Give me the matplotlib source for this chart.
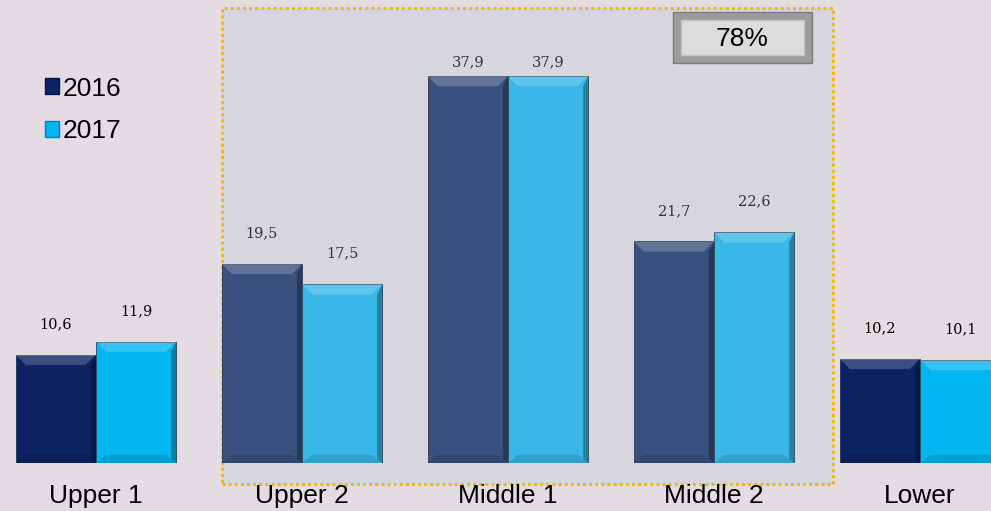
import numpy as np
import matplotlib.pyplot as plt
from matplotlib.patches import Rectangle, Polygon, Patch

# data
categories = ['Upper 1', 'Upper 2', 'Middle 1', 'Middle 2', 'Lower']
years = ['2016', '2017']
vals_2016 = [10.6, 19.5, 37.9, 21.7, 10.2]
vals_2017 = [11.9, 17.5, 37.9, 22.6, 10.1]
labels_2016 = ['10,6', '19,5', '37,9', '21,7', '10,2']
labels_2017 = ['11,9', '17,5', '37,9', '22,6', '10,1']
highlighted = [False, True, True, True, False]
share_text = '78%'

bg = '#e4dce2'
dark = '#0b2263'
light = '#02b6f2'
dark_muted = '#3a5180'
light_muted = '#38b7e8'

fig = plt.figure(figsize=(9.91, 5.11), dpi=100)
fig.patch.set_facecolor(bg)
ax = fig.add_axes([0, 48 / 511, 1, 463 / 511])
ax.set_facecolor('none')
for s in ax.spines.values():
    s.set_visible(False)

x = np.arange(len(categories))
w = 0.39
ax.set_xlim(-96 / 206, 895 / 206)
ax.set_ylim(0, 45.35)

# highlight panel behind the middle groups
panel = Rectangle((1 - w, -2.06), 2.97, 46.6, facecolor='#d6d6df',
                  edgecolor='#f5b800', linestyle=(0, (1, 1)), linewidth=2.2,
                  clip_on=False, zorder=0)
ax.add_patch(panel)


def bevel(bar):
    # fake bevel: lighter top band, darker right and bottom edges
    x0, y0 = bar.get_x(), bar.get_y()
    bw, bh = bar.get_width(), bar.get_height()
    dx, dy = 0.05, 1.0
    top = Polygon([(x0, y0 + bh), (x0 + bw, y0 + bh), (x0 + bw - dx, y0 + bh - dy),
                   (x0 + dx, y0 + bh - dy)], closed=True,
                  facecolor='white', alpha=0.2, linewidth=0, zorder=3)
    right = Polygon([(x0 + bw, y0 + bh), (x0 + bw, y0), (x0 + bw - dx * 0.5, y0 + dy * 0.4),
                     (x0 + bw - dx * 0.5, y0 + bh - dy)], closed=True,
                    facecolor='black', alpha=0.3, linewidth=0, zorder=3)
    bottom = Polygon([(x0, y0), (x0 + bw, y0), (x0 + bw - dx, y0 + dy * 0.8),
                      (x0 + dx, y0 + dy * 0.8)], closed=True,
                     facecolor='black', alpha=0.12, linewidth=0, zorder=3)
    ax.add_patch(top)
    ax.add_patch(right)
    ax.add_patch(bottom)


c16 = [dark_muted if h else dark for h in highlighted]
c17 = [light_muted if h else light for h in highlighted]
b16 = ax.bar(x - w / 2, vals_2016, w, color=c16, edgecolor='#2a3550', linewidth=0.6, zorder=2)
b17 = ax.bar(x + w / 2, vals_2017, w, color=c17, edgecolor='#2a4a60', linewidth=0.6, zorder=2)
for b in list(b16) + list(b17):
    bevel(b)

top_val = max(vals_2016 + vals_2017)
for bars, labs in ((b16, labels_2016), (b17, labels_2017)):
    for b, lab, h in zip(bars, labs, highlighted):
        off = 10 if b.get_height() == top_val else 22
        ax.annotate(lab, (b.get_x() + b.get_width() / 2, b.get_height()),
                    xytext=(0, off), textcoords='offset points', ha='center', va='center',
                    fontsize=10.5, family='DejaVu Serif',
                    color='#333333' if h else '#000000', zorder=5)

ax.set_xticks(x)
ax.set_xticklabels(categories, fontsize=19, family='Liberation Sans')
ax.tick_params(axis='x', length=0, pad=15)
ax.set_yticks([])

handles = [Patch(facecolor=dark, edgecolor='#061540'),
           Patch(facecolor=light, edgecolor='#0080b0')]
ax.legend(handles, years, loc='upper left', bbox_to_anchor=(34 / 991, 1 - 66 / 463),
          frameon=False, prop={'family': 'Liberation Sans', 'size': 19},
          handlelength=0.55, handleheight=0.55, handletextpad=0.12, labelspacing=0.7,
          borderaxespad=0)

# 78% button
bx, by, bwid, bht = 673, 12, 139, 51
outer = Rectangle((bx / 991, 1 - (by + bht) / 511), bwid / 991, bht / 511,
                  transform=fig.transFigure, facecolor='#9c9c9c', edgecolor='#7a7a7a',
                  linewidth=1)
inner = Rectangle(((bx + 8) / 991, 1 - (by + bht - 8) / 511), (bwid - 16) / 991, (bht - 16) / 511,
                  transform=fig.transFigure, facecolor='#dcdcdc', edgecolor='#c4c4c4',
                  linewidth=1)
fig.patches.extend([outer, inner])
fig.text((bx + bwid / 2) / 991, 1 - (by + bht / 2 + 2) / 511, share_text, ha='center', va='center',
         fontsize=19, family='Liberation Sans', color='black')

fig.savefig('out.png', dpi=100, facecolor=fig.get_facecolor())
